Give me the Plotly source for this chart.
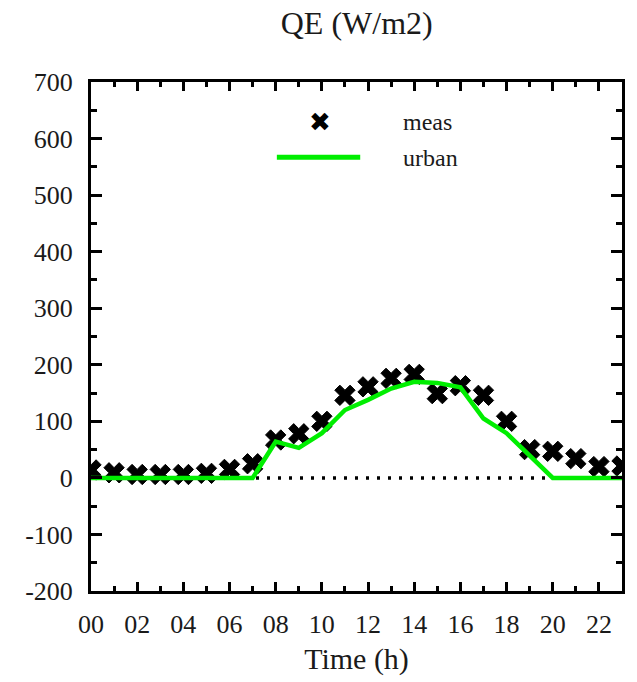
import plotly.graph_objects as go

# Hourly latent heat flux QE (W/m2)
hours = list(range(24))
x_tickvals = list(range(0, 24, 2))
x_ticktext = [f"{h:02d}" for h in x_tickvals]
y_tickvals = list(range(-200, 701, 100))
y_ticktext = [str(v) for v in y_tickvals]   # plain hyphen for negatives

meas = [14, 9, 6, 6, 6, 8, 15, 25, 67, 78, 100, 146, 161, 176, 183, 149,
        163, 146, 100, 50, 47, 34, 20, 21]
urban = [0, 0, 0, 0, 0, 0, 0, 0, 64, 53, 79, 120, 138, 158, 170, 168,
         160, 105, 79, 40, 0, 0, 0, 0]

serif = '"Liberation Serif", serif'
text_col = "#1a1a1a"
green = "#00ee00"

fig = go.Figure()

# dotted zero axis
fig.add_trace(go.Scatter(
    x=[hours[0], hours[-1]], y=[0, 0], mode="lines",
    line=dict(color="black", width=3.5, dash="3px,8px"),
    showlegend=False, hoverinfo="skip"))

fig.add_trace(go.Scatter(
    x=hours, y=meas, mode="markers", name="meas",
    marker=dict(symbol="x", size=18, color="black",
                line=dict(color="black", width=1)),
    showlegend=False))

fig.add_trace(go.Scatter(
    x=hours, y=urban, mode="lines", name="urban",
    line=dict(color=green, width=4.5), showlegend=False))

axis_common = dict(
    showline=True, linecolor="black", linewidth=3, mirror="ticks",
    ticks="inside", tickcolor="black", tickwidth=2.5,
    showgrid=False, zeroline=False,
    tickfont=dict(family=serif, size=26, color=text_col),
)

fig.update_xaxes(
    range=[0, 23], tickmode="array",
    tickvals=x_tickvals, ticktext=x_ticktext,
    ticklen=9, ticklabelstandoff=8,
    minor=dict(dtick=1, ticks="inside", ticklen=5, tickcolor="black",
               tickwidth=2.5, showgrid=False),
    title=dict(text="Time (h)", font=dict(family=serif, size=30, color=text_col),
               standoff=10),
    **axis_common)

fig.update_yaxes(
    range=[-200, 700], tickmode="array",
    tickvals=y_tickvals, ticktext=y_ticktext,
    ticklen=11, ticklabelstandoff=10,
    minor=dict(dtick=50, ticks="inside", ticklen=6, tickcolor="black",
               tickwidth=2.5, showgrid=False),
    **axis_common)

# key: cross + label, green line + label
fig.add_annotation(x=0.431, y=0.922, xref="paper", yref="paper",
                   xanchor="center", yanchor="middle",
                   text="\u2716", showarrow=False,
                   font=dict(family="DejaVu Sans", size=26, color="black"))
fig.add_shape(type="line", xref="paper", yref="paper",
              x0=0.350, x1=0.507, y0=0.852, y1=0.852,
              line=dict(color=green, width=5))
fig.add_annotation(x=0.584, y=0.922, xref="paper", yref="paper",
                   xanchor="left", yanchor="middle", text="meas",
                   showarrow=False,
                   font=dict(family=serif, size=24, color=text_col))
fig.add_annotation(x=0.584, y=0.850, xref="paper", yref="paper",
                   xanchor="left", yanchor="middle", text="urban",
                   showarrow=False,
                   font=dict(family=serif, size=24, color=text_col))

fig.update_layout(
    width=637, height=682,
    margin=dict(l=91, r=15, t=82, b=86),
    paper_bgcolor="white", plot_bgcolor="white",
    title=dict(text="QE (W/m2)", x=0.56, xanchor="center", y=0.966,
               yanchor="middle",
               font=dict(family=serif, size=32, color=text_col)),
    showlegend=False,
)

fig.write_html("out.html")
